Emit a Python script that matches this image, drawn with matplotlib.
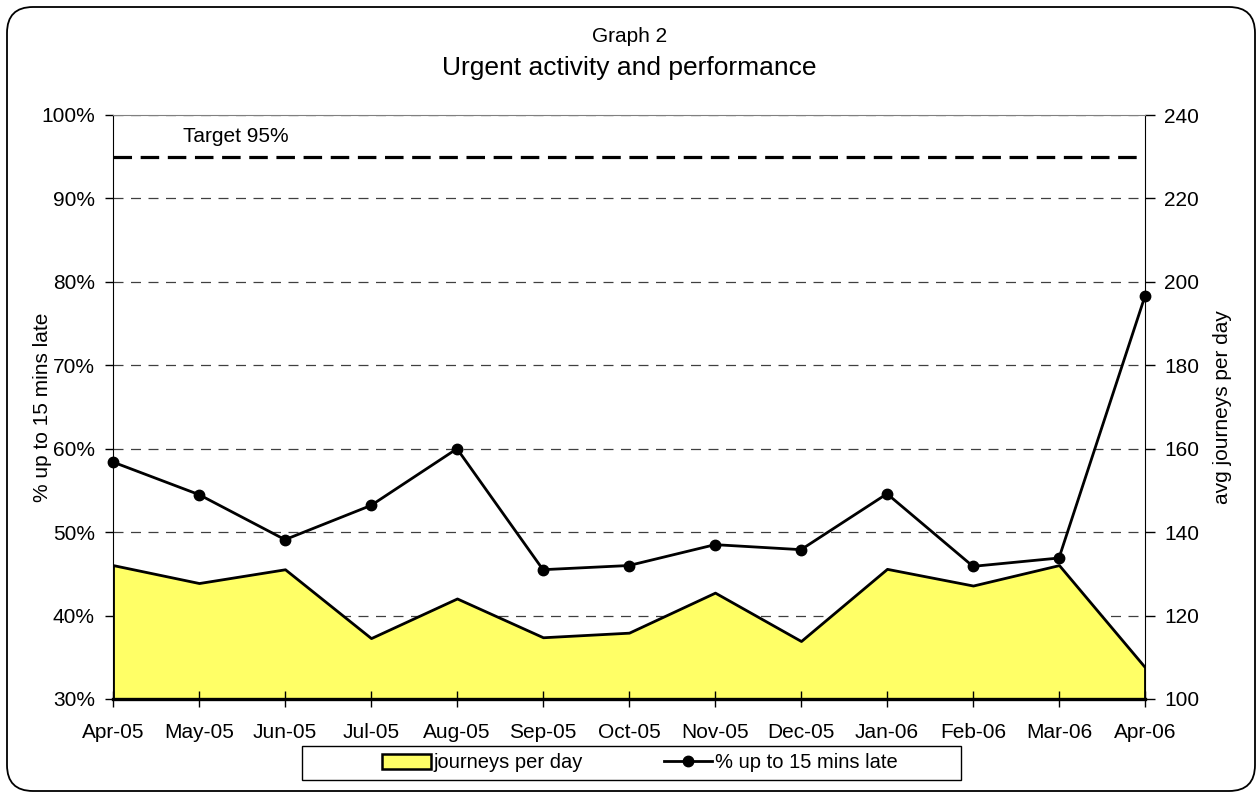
import matplotlib
matplotlib.use("Agg")
import matplotlib.pyplot as plt
from matplotlib.patches import FancyBboxPatch, Rectangle, Patch
from matplotlib.lines import Line2D
from matplotlib.ticker import PercentFormatter

plt.rcParams['font.family'] = ['Liberation Sans', 'DejaVu Sans']

# data
months = ["Apr-05", "May-05", "Jun-05", "Jul-05", "Aug-05", "Sep-05", "Oct-05",
          "Nov-05", "Dec-05", "Jan-06", "Feb-06", "Mar-06", "Apr-06"]
journeys = [132.1, 127.8, 131.1, 114.6, 124.1, 114.8, 115.9,
            125.5, 113.9, 131.2, 127.2, 132.1, 107.6]
pct_late = [58.4, 54.5, 49.1, 53.2, 60.0, 45.5, 46.0,
            48.5, 47.9, 54.6, 45.9, 46.9, 78.3]
target = 95

W, H = 1259, 794
fig = plt.figure(figsize=(W / 100, H / 100), dpi=100)
ax = fig.add_axes([113 / W, 1 - 699 / H, 1032 / W, 584 / H])
ax2 = ax.twinx()
ax.set_zorder(ax2.get_zorder() + 1)
ax.patch.set_visible(False)

x = list(range(len(months)))

# area on right axis
ax2.fill_between(x, journeys, 100, facecolor='#FFFF66', edgecolor='black', lw=2.0, zorder=2)
ax2.set_ylim(100, 240)
ax2.set_yticks(range(100, 241, 20))
ax2.yaxis.grid(True, color='0.25', lw=0.9, linestyle=(0, (8, 6)))
ax2.set_axisbelow(True)
ax2.tick_params(axis='y', direction='out', length=7, width=1, pad=7, labelsize=15)
ax2.set_ylabel("avg journeys per day", fontsize=15)
ax2.yaxis.set_label_coords(1.066, 0.5)
for s in ax2.spines.values():
    s.set_visible(False)

# line on left axis
ax.plot(x, pct_late, color='black', lw=2.0, marker='o', ms=7.5, clip_on=False, zorder=4)
ax.axhline(target, color='black', lw=2.3, linestyle=(0, (5.8, 2.7)), zorder=3)
ax.text(0.81, 97.4, "Target 95%", fontsize=15, va='center', ha='left')

ax.set_xlim(0, len(months) - 1)
ax.set_ylim(30, 100)
ax.set_yticks(range(30, 101, 10))
ax.yaxis.set_major_formatter(PercentFormatter(xmax=100, decimals=0))
ax.set_xticks(x)
ax.set_xticklabels(months)
ax.tick_params(axis='y', direction='out', length=6, width=1, pad=7, labelsize=15)
ax.tick_params(axis='x', direction='inout', length=11, width=1, pad=12, labelsize=15)
ax.set_ylabel("% up to 15 mins late", fontsize=15)
ax.yaxis.set_label_coords(-0.059, 0.5)

ax.spines['top'].set_color('0.5')
ax.spines['left'].set_color('black')
ax.spines['right'].set_color('black')
ax.spines['bottom'].set_linewidth(2.4)

# titles
fig.text(0.5, 1 - 37 / H, "Graph 2", ha='center', va='center', fontsize=15)
fig.text(0.5, 1 - 68 / H, "Urgent activity and performance", ha='center', va='center', fontsize=19)

# legend
handles = [Patch(facecolor='#FFFF66', edgecolor='black', lw=1.8),
           Line2D([], [], color='black', lw=2.0, marker='o', ms=7.5)]
fig.legend(handles, ["journeys per day", "% up to 15 mins late"], ncol=2,
           loc='center', bbox_to_anchor=(640 / W, 1 - 763 / H), frameon=False,
           fontsize=14.5, handlelength=2.4, handletextpad=0.15, columnspacing=4.0)
fig.patches.append(Rectangle((302 / W, 1 - 780 / H), 659 / W, 34 / H,
                             transform=fig.transFigure, fill=False, edgecolor='black', lw=1))

# rounded outer border
fig.patches.append(FancyBboxPatch((0.07, 0.03), 12.48, 7.84,
                                  boxstyle="round,pad=0,rounding_size=0.26",
                                  transform=fig.dpi_scale_trans, fill=False,
                                  edgecolor='black', lw=1.3))

fig.savefig("out.png", dpi=100)
